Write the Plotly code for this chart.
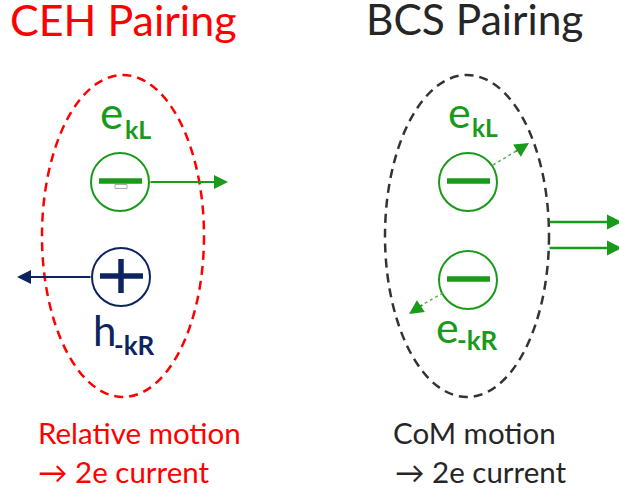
import plotly.graph_objects as go

# ---- text content ----
titles = ["CEH Pairing", "BCS Pairing"]
caption_line1 = ["Relative motion", "CoM motion"]
caption_line2 = ["\u2192 2e current", "\u2192 2e current"]
particle_main = ["e", "h", "e", "e"]
particle_sub = ["kL", "-kR", "kL", "-kR"]
charges = ["-", "+", "-", "-"]

RED = "#ff0000"
DARK = "#262626"
GREEN = "#1a9a1a"
NAVY = "#0d2460"
FONT = "Lato"

W, H = 619, 491
fig = go.Figure()
fig.update_layout(
    width=W, height=H, margin=dict(l=0, r=0, t=0, b=0),
    paper_bgcolor="white", plot_bgcolor="white", showlegend=False,
    xaxis=dict(range=[0, W], visible=False, fixedrange=True),
    yaxis=dict(range=[H, 0], visible=False, fixedrange=True),
)

shapes = []
ann = []

# pair ellipses
shapes.append(dict(type="circle", x0=42, x1=204, y0=75, y1=397,
                   line=dict(color=RED, width=2.5, dash="9px,6px")))
shapes.append(dict(type="circle", x0=385, x1=549, y0=75, y1=397,
                   line=dict(color="#333333", width=2.5, dash="9px,6px")))

# particle circles: (cx, cy, color)
circles = [(120, 182, GREEN), (121, 277, NAVY), (468, 182, GREEN), (468, 280, GREEN)]
r = 29
for (cx, cy, col), ch in zip(circles, charges):
    shapes.append(dict(type="circle", x0=cx - r, x1=cx + r, y0=cy - r, y1=cy + r,
                       line=dict(color=col, width=2), fillcolor="white", layer="above"))
    shapes.append(dict(type="line", x0=cx - 21, x1=cx + 22, y0=cy - 1, y1=cy - 1,
                       line=dict(color=col, width=5.5), layer="above"))
    if ch == "+":
        shapes.append(dict(type="line", x0=cx, x1=cx, y0=cy - 18, y1=cy + 16,
                           line=dict(color=col, width=5.5), layer="above"))

# small artifact box under left minus
shapes.append(dict(type="rect", x0=115, x1=127, y0=184.5, y1=188.5,
                   line=dict(color="#aaaaaa", width=1), fillcolor="white", layer="above"))

def arrow(x0, y0, x1, y1, col, width=2, size=1.4):
    ann.append(dict(x=x1, y=y1, ax=x0, ay=y0, xref="x", yref="y", axref="x", ayref="y",
                    text="", showarrow=True, arrowhead=2, arrowwidth=width,
                    arrowsize=size, arrowcolor=col, standoff=0, startstandoff=0))

# CEH arrows
arrow(149, 182, 228, 182, GREEN)
arrow(92, 277, 17, 277, NAVY)

# BCS dotted arrows
shapes.append(dict(type="line", x0=493, y0=165, x1=518, y1=150,
                   line=dict(color="#55b455", width=1.5, dash="dot"), layer="above"))
arrow(514, 152.5, 529, 143, GREEN, width=1.5, size=1.9)
shapes.append(dict(type="line", x0=443, y0=293, x1=420, y1=306,
                   line=dict(color="#55b455", width=1.5, dash="dot"), layer="above"))
arrow(424, 304, 409, 314, GREEN, width=1.5, size=1.9)

# CoM arrows
arrow(548, 222, 622, 222, GREEN, width=2.5, size=1.2)
arrow(548, 248, 622, 248, GREEN, width=2.5, size=1.2)

def text(x, y, s, size, col, bold=False):
    ann.append(dict(x=x, y=y, xref="x", yref="y", text=(f"<b>{s}</b>" if bold else s),
                    showarrow=False, xanchor="left", yanchor="middle",
                    font=dict(family=FONT, size=size, color=col)))

# titles
text(8, 19, titles[0], 43, RED)
text(364, 18, titles[1], 42.5, DARK)

# particle labels: main letter pos, sub pos, sizes
label_pos = [
    ((98, 112, 44), (123, 129, 25), GREEN),
    ((91, 330, 42), (112, 345, 26), NAVY),
    ((446, 111, 43), (470, 127, 24.5), GREEN),
    ((434, 326, 43), (455, 340, 26), GREEN),
]
for (m, s, col), mt, st in zip(label_pos, particle_main, particle_sub):
    text(m[0], m[1], mt, m[2], col)
    text(s[0], s[1], st, s[2], col, bold=True)

# captions
text(36, 432, caption_line1[0], 29.5, RED)
text(36, 471, caption_line2[0], 29.5, RED)
text(391, 432, caption_line1[1], 29.5, DARK)
text(393, 471, caption_line2[1], 29.5, DARK)

fig.update_layout(shapes=shapes, annotations=ann)
fig.write_html("out.html", config={"displayModeBar": False},
               post_script="document.body.style.margin='0';document.body.style.overflow='hidden';")
